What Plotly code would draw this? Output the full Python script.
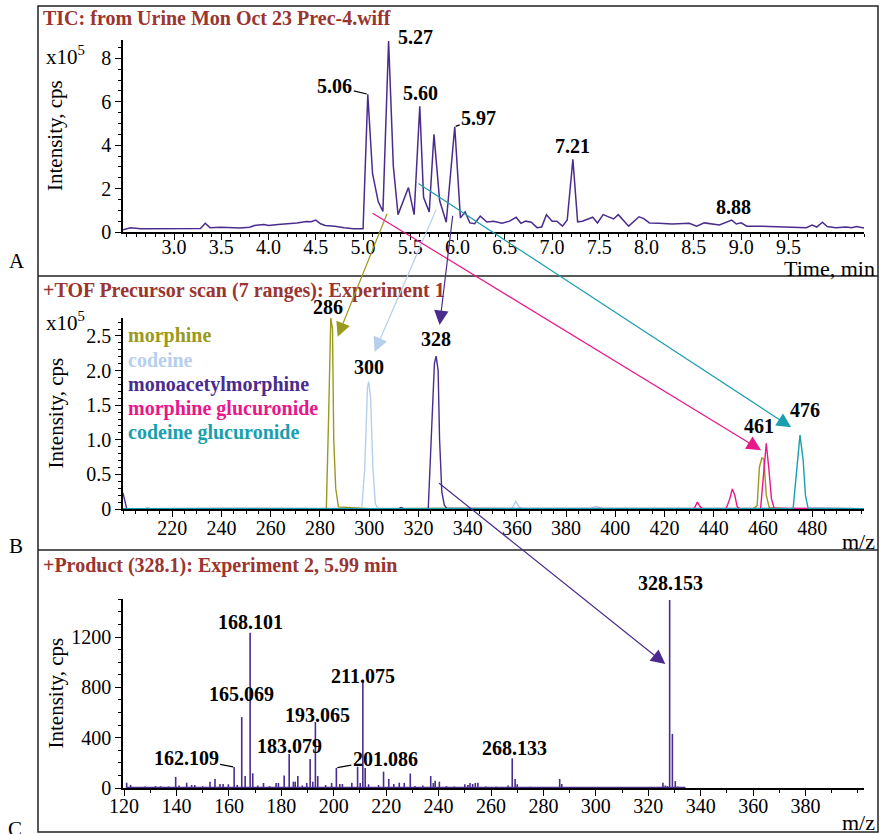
import plotly.graph_objects as go

# ---------------- DATA ----------------
# Panel A: TIC
tic_time = [2.46, 2.54, 2.65, 2.8, 2.95, 3.1, 3.2, 3.28, 3.33, 3.38, 3.5, 3.6, 3.7, 3.8, 3.85, 3.95, 4.0,
            4.1, 4.2, 4.3, 4.4, 4.45, 4.5, 4.55, 4.6, 4.7, 4.8, 4.9, 4.97, 5.0, 5.05, 5.1, 5.16, 5.21,
            5.27, 5.32, 5.37, 5.43, 5.48, 5.54, 5.6, 5.64, 5.7, 5.75, 5.81, 5.88, 5.97, 6.03, 6.08, 6.13,
            6.18, 6.24, 6.31, 6.38, 6.47, 6.55, 6.62, 6.67, 6.72, 6.78, 6.84, 6.89, 6.94, 7.0, 7.05, 7.11,
            7.16, 7.22, 7.27, 7.32, 7.43, 7.48, 7.54, 7.65, 7.7, 7.81, 7.92, 7.97, 8.03, 8.13, 8.27, 8.45,
            8.53, 8.61, 8.77, 8.9, 8.95, 9.0, 9.06, 9.17, 9.33, 9.54, 9.62, 9.69, 9.75, 9.8, 9.86, 9.91,
            10.0, 10.11, 10.17, 10.22, 10.3]
tic_int = [0.1, 0.2, 0.15, 0.15, 0.14, 0.16, 0.15, 0.16, 0.4, 0.2, 0.22, 0.2, 0.18, 0.22, 0.3, 0.35, 0.3,
           0.35, 0.38, 0.42, 0.48, 0.47, 0.55, 0.38, 0.3, 0.27, 0.2, 0.15, 0.15, 0.15, 6.35, 2.7, 1.4, 0.95,
           8.8, 3.05, 0.8, 1.45, 2.05, 0.8, 5.8, 1.6, 0.92, 4.5, 1.45, 0.45, 4.85, 0.65, 0.92, 0.42,
           0.38, 0.73, 0.46, 0.5, 0.4, 0.5, 0.68, 0.4, 0.5, 0.45, 0.2, 0.23, 0.8, 0.5, 0.5, 0.27,
           0.55, 3.35, 0.47, 0.5, 0.68, 0.42, 0.8, 0.6, 0.8, 0.27, 0.7, 0.62, 0.42, 0.4, 0.37, 0.4,
           0.27, 0.42, 0.32, 0.55, 0.37, 0.42, 0.27, 0.27, 0.25, 0.2, 0.18, 0.2, 0.32, 0.23, 0.45, 0.25,
           0.2, 0.23, 0.2, 0.25, 0.18]
tic_peak_labels = ["5.06", "5.27", "5.60", "5.97", "7.21", "8.88"]
tic_peak_x = [5.05, 5.27, 5.60, 5.97, 7.22, 8.90]
tic_peak_y = [6.35, 8.8, 5.8, 4.85, 3.35, 0.55]

# Panel B: precursor scans
morph_mz = [200, 230, 255, 270, 282.6, 283.5, 284.4, 285.1, 285.6, 286.4, 287.5, 300, 330, 360, 400, 440,
            456, 457.6, 458.5, 459.5, 460.3, 461.3, 462.5, 470, 501]
morph_int = [0.004, 0.006, 0.01, 0.004, 0.004, 1.3, 2.76, 2.6, 1.0, 0.3, 0.03, 0.005, 0.01, 0.004, 0.004,
             0.004, 0.004, 0.05, 0.6, 0.74, 0.72, 0.2, 0.02, 0.005, 0.004]
cod_mz = [200, 209, 210, 211, 250, 297.0, 298.2, 299.3, 299.8, 300.6, 301.5, 302.5, 303.5, 340, 358,
          359.5, 361, 362, 390, 392, 394, 395, 430, 501]
cod_int = [0.004, 0.004, 0.02, 0.004, 0.006, 0.005, 0.6, 1.75, 1.84, 1.6, 0.6, 0.08, 0.01, 0.006, 0.006,
           0.11, 0.03, 0.006, 0.006, 0.04, 0.02, 0.006, 0.004, 0.004]
mam_mz = [200, 200.8, 201.5, 240, 280, 312, 313, 314, 324.0, 325.3, 326.5, 327.2, 328.0, 328.6, 329.5,
          330.5, 331.5, 380, 430, 501]
mam_int = [0.23, 0.1, 0.006, 0.008, 0.004, 0.006, 0.02, 0.006, 0.006, 1.2, 2.1, 2.21, 2.0, 1.0, 0.25,
           0.06, 0.01, 0.008, 0.004, 0.006]
mglu_mz = [200, 300, 400, 432, 433.3, 434.5, 435.5, 445, 446.5, 447.5, 448.5, 449.5, 450.5, 459.0,
           460.2, 461.3, 462.3, 463.4, 464.5, 501]
mglu_int = [0.005, 0.004, 0.005, 0.005, 0.1, 0.03, 0.005, 0.005, 0.15, 0.29, 0.2, 0.03, 0.005, 0.005,
            0.5, 0.95, 0.6, 0.15, 0.01, 0.005]
cglu_mz = [200, 260, 330, 420, 472.2, 473.5, 475.0, 476.3, 477.2, 478.3, 501]
cglu_int = [0.006, 0.004, 0.006, 0.004, 0.005, 0.5, 1.07, 0.7, 0.2, 0.01, 0.005]
prec_names = ["morphine", "codeine", "monoacetylmorphine", "morphine glucuronide", "codeine glucuronide"]
prec_colors = ["#9a9a1e", "#b6cfec", "#4a2c8e", "#e8178b", "#1a9fb0"]
prec_labels = ["286", "300", "328", "461", "476"]
prec_label_x = [284.6, 299.8, 327.2, 461.3, 475.0]
prec_label_y = [2.76, 1.84, 2.21, 0.95, 1.07]

# Panel C: product ion spectrum
prod_mz = [121.0, 122.5, 128, 132, 134, 137, 139.7, 141, 143.9, 145.8, 147, 150, 152.8, 154.7, 156.6,
           157.8, 159.8, 162.0, 163.2, 164.9, 166.2, 168.1, 169.1, 171, 173.2, 175.5, 178.0, 178.9,
           181.1, 183.0, 184.6, 185.3, 186.3, 188, 189.7, 191.0, 192.0, 193.0, 193.9, 196.9, 199.2,
           201.0, 202.3, 203.3, 206.9, 209.1, 210.1, 211.1, 212.0, 213.3, 217.1, 219.0, 221.0, 222.9,
           225.0, 226.9, 229.2, 231, 234, 237.0, 238.0, 238.7, 240.3, 243, 246, 250.0, 251.2, 252.0,
           253.0, 254.0, 255.0, 258, 262, 266.5, 268.1, 269.2, 270.0, 275, 282, 286.2, 287.0, 295, 310,
           325.6, 326.5, 327.3, 328.15, 329.2, 330.3, 331.2, 334]
prod_int = [42, 25, 12, 15, 14, 12, 88, 20, 42, 24, 24, 14, 50, 72, 32,
            32, 30, 167, 25, 564, 95, 1235, 117, 20, 40, 15, 40, 40,
            100, 270, 50, 50, 95, 20, 40, 230, 50, 525, 95, 24, 40,
            160, 32, 32, 42, 170, 40, 860, 160, 30, 24, 130, 72, 32,
            42, 40, 115, 15, 20, 95, 40, 58, 50, 15, 12, 30, 24, 40,
            32, 40, 42, 12, 10, 20, 236, 72, 30, 10, 8, 72, 32, 8, 6,
            42, 20, 15, 1495, 430, 55, 12, 5]
prod_labels = ["328.153", "268.133", "211.075", "193.065", "168.101", "165.069", "183.079",
               "162.109", "201.086"]
prod_label_x = [328.15, 268.1, 211.1, 193.0, 168.1, 164.9, 183.0, 162.0, 201.0]
prod_label_y = [1495, 236, 860, 525, 1235, 564, 270, 167, 160]

# ---------------- LAYOUT GEOMETRY ----------------
W, H = 880, 834
SERIF = "Liberation Serif"
TITLE_RED = "#9a3530"
PURPLE = "#4a2c8e"
L, R = 123, 864
panels = {
    "A": dict(top=40, bottom=232, xr=[2.46, 10.3], yr=[0, 8.85], standoff=-10),
    "B": dict(top=318, bottom=509, xr=[200, 501], yr=[0, 2.76], standoff=-6),
    "C": dict(top=599, bottom=788, xr=[119.6, 402.3], yr=[0, 1503], standoff=-7),
}


def to_px(p, x, y):
    d = panels[p]
    px = L + (x - d["xr"][0]) / (d["xr"][1] - d["xr"][0]) * (R - L)
    py = d["bottom"] - (y - d["yr"][0]) / (d["yr"][1] - d["yr"][0]) * (d["bottom"] - d["top"])
    return px, py


fig = go.Figure()

# Panel A trace
fig.add_trace(go.Scatter(x=tic_time, y=tic_int, mode="lines", line=dict(color=PURPLE, width=1.5),
                         xaxis="x", yaxis="y", hoverinfo="skip"))

# Panel B traces
prec_data = [(morph_mz, morph_int), (cod_mz, cod_int), (mam_mz, mam_int), (mglu_mz, mglu_int),
             (cglu_mz, cglu_int)]
for (mz, it), col in zip(prec_data, prec_colors):
    fig.add_trace(go.Scatter(x=mz, y=it, mode="lines", line=dict(color=col, width=1.4),
                             xaxis="x2", yaxis="y2", hoverinfo="skip"))

# Panel C sticks
sx, sy = [], []
for m, v in zip(prod_mz, prod_int):
    sx += [m, m, None]
    sy += [0, v, None]
fig.add_trace(go.Scatter(x=[min(prod_mz), max(prod_mz)], y=[3, 3], mode="lines",
                         line=dict(color=PURPLE, width=1.5), xaxis="x3", yaxis="y3", hoverinfo="skip"))
fig.add_trace(go.Scatter(x=sx, y=sy, mode="lines", line=dict(color=PURPLE, width=1.6),
                         xaxis="x3", yaxis="y3", hoverinfo="skip"))

tickfont = dict(family=SERIF, size=20, color="black")


def xax(p, tickvals, ticktext, minor_dtick, minor_tick0, anchor):
    d = panels[p]
    return dict(domain=[L / W, R / W], range=d["xr"], anchor=anchor, showline=True, linecolor="black",
                linewidth=1.5, ticks="outside", ticklen=6, tickwidth=1.3, tickcolor="black",
                tickmode="array", tickvals=tickvals, ticktext=ticktext, tickfont=tickfont,
                ticklabelstandoff=d["standoff"],
                showgrid=False, zeroline=False, automargin=False,
                minor=dict(tickmode="linear", tick0=minor_tick0, dtick=minor_dtick, ticks="outside",
                           ticklen=3, tickwidth=1, tickcolor="black", showgrid=False))


def yax(p, tickvals, ticktext, minor_dtick, anchor):
    d = panels[p]
    return dict(domain=[1 - d["bottom"] / H, 1 - d["top"] / H], range=d["yr"], anchor=anchor,
                showline=True, linecolor="black", linewidth=1.5, ticks="outside", ticklen=6,
                tickwidth=1.3, tickcolor="black", tickmode="array", tickvals=tickvals,
                ticktext=ticktext, tickfont=tickfont, showgrid=False, zeroline=False, automargin=False,
                minor=dict(tickmode="linear", tick0=0, dtick=minor_dtick, ticks="outside", ticklen=3,
                           tickwidth=1, tickcolor="black", showgrid=False))


a_ticks = [3.0 + 0.5 * i for i in range(14)]
b_ticks = list(range(220, 500, 20))
c_ticks = list(range(120, 400, 20))

layout = dict(
    width=W, height=H, margin=dict(l=0, r=0, t=0, b=0, pad=0, autoexpand=False),
    paper_bgcolor="white", plot_bgcolor="white", showlegend=False,
    xaxis=xax("A", a_ticks, ["%.1f" % v for v in a_ticks], 0.1, 2.5, "y"),
    yaxis=yax("A", [0, 2, 4, 6, 8], ["0", "2", "4", "6", "8"], 0.5, "x"),
    xaxis2=xax("B", b_ticks, [str(v) for v in b_ticks], 5, 200, "y2"),
    yaxis2=yax("B", [0, 0.5, 1.0, 1.5, 2.0, 2.5], ["0", "0.5", "1.0", "1.5", "2.0", "2.5"], 0.1, "x2"),
    xaxis3=xax("C", c_ticks, [str(v) for v in c_ticks], 10, 120, "y3"),
    yaxis3=yax("C", [0, 400, 800, 1200], ["0", "400", "800", "1200"], 100, "x3"),
)
fig.update_layout(**layout)

ann = []


def ptxt(x, y, text, size=20, color="black", xanchor="left", yanchor="middle", bold=False, angle=0):
    t = "<b>%s</b>" % text if bold else text
    ann.append(dict(xref="paper", yref="paper", x=x / W, y=1 - y / H, text=t, showarrow=False,
                    xanchor=xanchor, yanchor=yanchor, textangle=angle, borderpad=0,
                    font=dict(family=SERIF, size=size, color=color)))


# Panel titles
ptxt(42, 18, "TIC: from Urine Mon Oct 23 Prec-4.wiff", color=TITLE_RED, bold=True)
ptxt(42, 290, "+TOF Precursor scan (7 ranges): Experiment 1", color=TITLE_RED, bold=True)
ptxt(42, 565, "+Product (328.1): Experiment 2, 5.99 min", color=TITLE_RED, bold=True)
# Panel letters
ptxt(17, 261, "A", size=21, xanchor="center")
ptxt(16, 546, "B", size=21, xanchor="center")
ptxt(15, 829, "C", size=21, xanchor="center")
# Axis titles
for yc in [(40 + 232) / 2, (318 + 509) / 2, (599 + 788) / 2]:
    ptxt(55, yc, "Intensity, cps", size=21, xanchor="center", angle=-90)
ptxt(876, 268, "Time, min", size=22, xanchor="right")
ptxt(876, 541, "m/z", size=22, xanchor="right")
ptxt(876, 822, "m/z", size=22, xanchor="right")
ptxt(45, 55, "x10<sup>5</sup>", size=21)
ptxt(45, 321, "x10<sup>5</sup>", size=21)

# Legend text in panel B
for i, (nm, col) in enumerate(zip(prec_names, prec_colors)):
    ptxt(127, 336 + i * 24, nm, color=col, bold=True)

# Peak labels (data coords with pixel shifts)
lblfont = dict(family=SERIF, size=20, color="black")
a_shift = {"5.06": ("arrow", -33, -8), "5.27": ("l", 7, 4), "5.60": ("b", 1, 0),
           "5.97": ("arrow", 24, -9), "7.21": ("b", 0, 0), "8.88": ("b", 2, 0)}
for lab, x, y in zip(tic_peak_labels, tic_peak_x, tic_peak_y):
    kind, dx, dy = a_shift[lab]
    if kind == "arrow":
        ann.append(dict(xref="x", yref="y", x=x, y=y, text="<b>%s</b>" % lab, showarrow=True,
                        arrowhead=0, arrowwidth=1.2, arrowcolor="black", ax=dx, ay=dy, font=lblfont,
                        standoff=1))
    elif kind == "l":
        ann.append(dict(xref="x", yref="y", x=x, y=y, text="<b>%s</b>" % lab, showarrow=False,
                        xanchor="left", yanchor="middle", xshift=dx, yshift=dy, font=lblfont))
    else:
        ann.append(dict(xref="x", yref="y", x=x, y=y, text="<b>%s</b>" % lab, showarrow=False,
                        xanchor="center", yanchor="bottom", xshift=dx, yshift=dy, font=lblfont))

b_shift = {"286": (-3, -2), "300": (0, 2), "328": (0, 4), "461": (-7, 4), "476": (5, 12)}
for lab, x, y in zip(prec_labels, prec_label_x, prec_label_y):
    dx, dy = b_shift[lab]
    ann.append(dict(xref="x2", yref="y2", x=x, y=y, text="<b>%s</b>" % lab, showarrow=False,
                    xanchor="center", yanchor="bottom", xshift=dx, yshift=dy, font=lblfont))

c_shift = {"328.153": ("m", 1, 17), "268.133": ("m", 2, 10), "211.075": ("m", 0, 4),
           "193.065": ("m", 2, 7), "168.101": ("m", 0, 11), "165.069": ("m", 0, 23),
           "183.079": ("m", 0, 8), "162.109": ("arrow", -48, -9), "201.086": ("arrow", 49, -9)}
for lab, x, y in zip(prod_labels, prod_label_x, prod_label_y):
    kind, dx, dy = c_shift[lab]
    if kind == "arrow":
        ann.append(dict(xref="x3", yref="y3", x=x, y=y, text="<b>%s</b>" % lab, showarrow=True,
                        arrowhead=0, arrowwidth=1.2, arrowcolor="black", ax=dx, ay=dy, font=lblfont,
                        standoff=1))
    else:
        ann.append(dict(xref="x3", yref="y3", x=x, y=y, text="<b>%s</b>" % lab, showarrow=False,
                        xanchor="center", yanchor="middle", xshift=dx, yshift=dy, font=lblfont))

# Cross-panel arrows: (tail panel, tail x, tail y, head panel, head x, head y, colour)
cross_arrows = [
    ("A", 5.26, 0.91, "B", 287.2, 2.49, prec_colors[0]),
    ("A", 5.78, 1.10, "B", 302.2, 2.27, prec_colors[1]),
    ("A", 5.085, 0.91, "B", 459.2, 0.85, prec_colors[3]),
    ("A", 5.57, 2.28, "B", 471.4, 1.18, prec_colors[4]),
    ("A", 5.95, 0.82, "B", 328.6, 2.66, PURPLE),
    ("B", 327.8, 0.39, "C", 326.5, 986, PURPLE),
]
for tp, tx, ty, hp, hx, hy, col in cross_arrows:
    tpx, tpy = to_px(tp, tx, ty)
    hpx, hpy = to_px(hp, hx, hy)
    ann.append(dict(xref="paper", yref="paper", x=hpx / W, y=1 - hpy / H, ax=tpx - hpx, ay=tpy - hpy,
                    axref="pixel", ayref="pixel", text="", showarrow=True, arrowhead=2, arrowsize=2.4,
                    arrowwidth=1.2, arrowcolor=col, standoff=0))

fig.update_layout(annotations=ann)

# Frame lines
shapes = [
    dict(type="rect", xref="paper", yref="paper", x0=38 / W, x1=878 / W, y0=1 - 832 / H, y1=1 - 6 / H,
         line=dict(color="#222", width=1.5)),
    dict(type="line", xref="paper", yref="paper", x0=38 / W, x1=878 / W, y0=1 - 276 / H, y1=1 - 276 / H,
         line=dict(color="#222", width=1.5)),
    dict(type="line", xref="paper", yref="paper", x0=38 / W, x1=878 / W, y0=1 - 550 / H, y1=1 - 550 / H,
         line=dict(color="#222", width=1.5)),
]
fig.update_layout(shapes=shapes)

fig.write_html("out.html")
